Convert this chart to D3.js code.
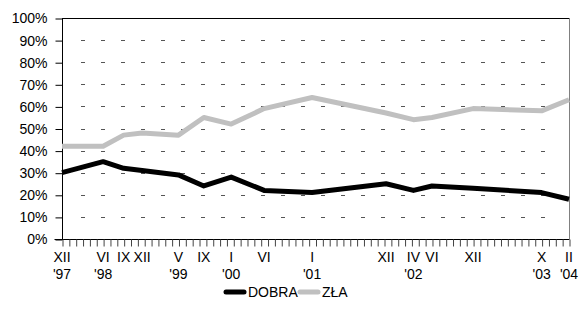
<!DOCTYPE html>
<html>
<head>
<meta charset="utf-8">
<script src="https://cdn.jsdelivr.net/npm/d3@7"></script>
<style>
  html, body { margin: 0; padding: 0; background: #fff; }
  svg text { font-family: "Liberation Sans", Arial, sans-serif; fill: #000; }
</style>
</head>
<body>
<svg id="chart" width="579" height="312"></svg>
<script>
// Position of each survey wave along the axis, in months after XII 1997
const months = [0, 6, 9, 11.7, 17, 20.7, 24.7, 29.5, 36.5, 47.3, 51.3, 54, 60, 70, 74];
const monthLabels = ["XII", "VI", "IX", "XII", "V", "IX", "I", "VI", "I", "XII", "IV", "VI", "XII", "X", "II"];
const yearLabels = ["'97", "'98", "", "", "'99", "", "'00", "", "'01", "", "'02", "", "", "'03", "'04"];
const dobra = [30, 35, 32, 31, 29, 24, 28, 22, 21, 25, 22, 24, 23, 21, 18];
const zla = [42, 42, 47, 48, 47, 55, 52, 59, 64, 57, 54, 55, 59, 58, 63];
const yTicks = [0, 10, 20, 30, 40, 50, 60, 70, 80, 90, 100];
const seriesNames = ["DOBRA", "ZŁA"];
const seriesColors = ["#000000", "#c0c0c0"];

const svg = d3.select("#chart");
const L = 62, R = 569, T = 18, B = 239;
const x = d3.scaleLinear().domain([0, 74]).range([L, R]);
const y = d3.scaleLinear().domain([0, 100]).range([B, T]);

// dashed gridlines
svg.append("g").selectAll("line").data(yTicks.filter(v => v > 0 && v < 100)).join("line")
  .attr("x1", L + 19).attr("x2", R - 10)
  .attr("y1", d => Math.round(y(d)) + 0.5).attr("y2", d => Math.round(y(d)) + 0.5)
  .attr("stroke", "#555").attr("stroke-width", 1).attr("stroke-dasharray", "4,16");

// top border and right border
svg.append("line").attr("x1", L).attr("x2", R).attr("y1", Math.round(y(100)) + 0.5).attr("y2", Math.round(y(100)) + 0.5)
  .attr("stroke", "#000").attr("stroke-width", 1);
svg.append("line").attr("x1", R + 0.5).attr("x2", R + 0.5).attr("y1", y(100)).attr("y2", y(0))
  .attr("stroke", "#808080").attr("stroke-width", 1);

// y axis
const yAxis = d3.axisLeft(y).tickValues(yTicks).tickFormat(d => d + "%").tickSize(7).tickPadding(8);
const gy = svg.append("g").attr("transform", `translate(${L + 0.5},0.5)`).call(yAxis);
gy.select(".domain").attr("stroke", "#000").attr("d", `M0,${T}V${B}`);
gy.selectAll(".tick line").attr("stroke", "#000");
gy.selectAll(".tick text").attr("font-size", 14).attr("font-family", "Liberation Sans, Arial, sans-serif").attr("fill", "#000");

// x axis with monthly ticks
const xAxis = d3.axisBottom(x).tickValues(d3.range(0, 75)).tickFormat("").tickSize(7);
const gx = svg.append("g").attr("transform", `translate(0.5,${B + 0.5})`).call(xAxis);
gx.select(".domain").attr("stroke", "#000").attr("d", `M${L - 8},0H${R}`);
gx.selectAll(".tick line").attr("stroke", "#444");

// x labels
const lab = svg.append("g").attr("font-size", 14).attr("text-anchor", "middle");
lab.selectAll("text.m").data(months).join("text").attr("class", "m")
  .attr("x", d => x(d)).attr("y", 262).text((d, i) => monthLabels[i]);
lab.selectAll("text.yr").data(months).join("text").attr("class", "yr")
  .attr("x", d => x(d)).attr("y", 279).text((d, i) => yearLabels[i]);

// lines
const line = d3.line().x((d, i) => x(months[i])).y(d => y(d));
[dobra, zla].forEach((s, k) => {
  svg.append("path").datum(s).attr("d", line).attr("fill", "none")
    .attr("stroke", seriesColors[k]).attr("stroke-width", 5).attr("stroke-linejoin", "round");
});

// legend
const lg = svg.append("g").attr("font-size", 14);
const legendX = [226, 300];
seriesNames.forEach((n, k) => {
  lg.append("line").attr("x1", legendX[k]).attr("x2", legendX[k] + 18).attr("y1", 292).attr("y2", 292)
    .attr("stroke", seriesColors[k]).attr("stroke-width", 5).attr("stroke-linecap", "round");
  lg.append("text").attr("x", legendX[k] + 22).attr("y", 297).text(n);
});
</script>
</body>
</html>
